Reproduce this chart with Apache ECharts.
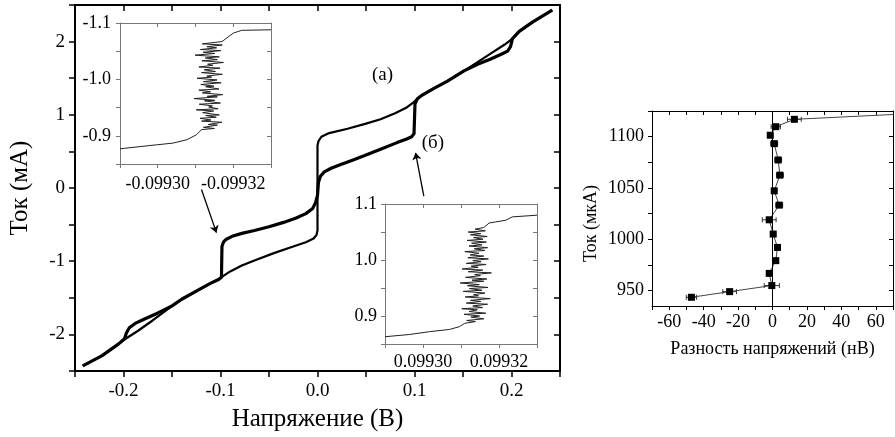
<!DOCTYPE html>
<html><head><meta charset="utf-8">
<script src="https://cdn.jsdelivr.net/npm/echarts@6/dist/echarts.min.js"></script>
<style>html,body{margin:0;padding:0;background:#fff}#c{width:895px;height:437px}</style>
</head><body><div id="c"></div>
<script>
// ---- Main I-V curve: branch with steps (thick) ----
const thickV = [-0.242,-0.222,-0.205,-0.199,-0.197,-0.194,-0.188,-0.180,-0.165,-0.150,-0.140,-0.125,-0.110,-0.102,-0.099,-0.0985,-0.097,-0.094,-0.088,-0.078,-0.065,-0.050,-0.035,-0.022,-0.012,-0.005,-0.002,0.000,0.001,0.003,0.007,0.014,0.024,0.036,0.048,0.065,0.082,0.092,0.097,0.0995,0.1005,0.103,0.108,0.120,0.134,0.151,0.165,0.178,0.190,0.196,0.199,0.201,0.208,0.222,0.242];
const thickI = [-2.43,-2.29,-2.13,-2.06,-1.98,-1.91,-1.85,-1.80,-1.71,-1.61,-1.52,-1.41,-1.30,-1.25,-1.22,-0.80,-0.74,-0.70,-0.66,-0.62,-0.58,-0.53,-0.47,-0.41,-0.35,-0.28,-0.20,-0.10,0.08,0.16,0.22,0.27,0.32,0.38,0.44,0.53,0.62,0.67,0.70,0.74,1.15,1.22,1.27,1.36,1.46,1.60,1.69,1.76,1.83,1.87,1.93,2.04,2.14,2.27,2.43];
// ---- Main I-V curve: other branch (thin) ----
const thinV = [-0.242,-0.222,-0.205,-0.199,-0.185,-0.170,-0.155,-0.140,-0.125,-0.110,-0.102,-0.097,-0.090,-0.078,-0.065,-0.045,-0.025,-0.012,-0.004,-0.001,0.000,0.000,0.001,0.004,0.012,0.031,0.050,0.065,0.080,0.092,0.099,0.103,0.108,0.120,0.134,0.151,0.165,0.180,0.193,0.201,0.208,0.222,0.242];
const thinI = [-2.43,-2.29,-2.13,-2.07,-1.95,-1.81,-1.66,-1.52,-1.41,-1.30,-1.25,-1.20,-1.14,-1.06,-0.99,-0.89,-0.80,-0.74,-0.69,-0.64,-0.58,0.58,0.64,0.70,0.75,0.81,0.88,0.94,1.02,1.10,1.17,1.22,1.27,1.36,1.46,1.60,1.72,1.85,1.96,2.04,2.14,2.27,2.43];
// ---- Inset (negative step) ----
const inset1V = [-0.0992900,-0.0992997,-0.0993040,-0.0993077,-0.0993103,-0.0993116,
 -0.0993150,-0.0993121,-0.0993158,-0.0993133,-0.0993170,-0.0993116,-0.0993141,-0.0993112,-0.0993155,-0.0993127,
 -0.0993163,-0.0993119,-0.0993148,-0.0993102,-0.0993160,-0.0993135,-0.0993145,-0.0993110,-0.0993166,-0.0993124,
 -0.0993151,-0.0993096,-0.0993158,-0.0993131,-0.0993172,-0.0993118,-0.0993140,-0.0993109,-0.0993162,-0.0993127,
 -0.0993149,-0.0993114,-0.0993168,-0.0993121,-0.0993157,-0.0993104,-0.0993143,-0.0993130,-0.0993171,-0.0993116,
 -0.0993153,-0.0993123,-0.0993165,-0.0993109,-0.0993146,-0.0993132,-0.0993174,-0.0993117,-0.0993158,-0.0993126,
 -0.0993163,-0.0993099,-0.0993151,-0.0993120,-0.0993167,-0.0993113,-0.0993156,-0.0993130,-0.0993171,-0.0993118,
 -0.0993170,-0.0993200,-0.0993222,-0.0993300];
const inset1I = [-0.877,-0.884,-0.887,-0.893,-0.902,-0.911,
 -0.913,-0.915,-0.919,-0.920,-0.924,-0.926,-0.928,-0.931,-0.933,-0.936,
 -0.937,-0.941,-0.944,-0.946,-0.948,-0.951,-0.953,-0.956,-0.958,-0.962,
 -0.963,-0.966,-0.969,-0.970,-0.973,-0.976,-0.978,-0.981,-0.983,-0.987,
 -0.988,-0.991,-0.994,-0.996,-0.999,-1.002,-1.004,-1.006,-1.009,-1.012,
 -1.014,-1.017,-1.020,-1.022,-1.025,-1.027,-1.030,-1.033,-1.035,-1.038,
 -1.040,-1.043,-1.046,-1.048,-1.051,-1.053,-1.056,-1.058,-1.061,-1.063,
 -1.067,-1.082,-1.087,-1.088];
// ---- Inset (positive step) ----
const inset2V = [0.0992900,0.0992965,0.0993017,0.0993070,0.0993096,0.0993110,
 0.0993138,0.0993115,0.0993160,0.0993126,0.0993149,0.0993108,0.0993165,0.0993121,0.0993143,0.0993102,
 0.0993157,0.0993131,0.0993170,0.0993114,0.0993152,0.0993125,0.0993177,0.0993111,0.0993146,0.0993133,
 0.0993163,0.0993106,0.0993155,0.0993122,0.0993171,0.0993117,0.0993148,0.0993098,0.0993160,0.0993129,
 0.0993168,0.0993112,0.0993151,0.0993136,0.0993180,0.0993119,0.0993157,0.0993103,0.0993145,0.0993127,
 0.0993166,0.0993114,0.0993153,0.0993131,0.0993172,0.0993118,0.0993160,0.0993124,0.0993147,0.0993110,
 0.0993163,0.0993135,0.0993170,0.0993121,0.0993155,0.0993128,0.0993167,0.0993116,0.0993158,0.0993133,
 0.0993169,0.0993125,0.0993152,0.0993119,0.0993164,0.0993137,0.0993160,
 0.0993174,0.0993191,0.0993218,0.0993235,0.0993300];
const inset2I = [0.863,0.867,0.872,0.876,0.881,0.887,
 0.890,0.892,0.895,0.898,0.900,0.903,0.905,0.908,0.911,0.913,
 0.915,0.918,0.921,0.923,0.926,0.928,0.931,0.934,0.936,0.938,
 0.941,0.944,0.946,0.949,0.951,0.954,0.956,0.959,0.962,0.964,
 0.966,0.969,0.972,0.974,0.977,0.979,0.982,0.984,0.987,0.989,
 0.992,0.994,0.997,0.999,1.002,1.004,1.007,1.009,1.012,1.015,
 1.017,1.020,1.022,1.025,1.027,1.030,1.032,1.035,1.037,1.040,
 1.042,1.045,1.047,1.050,1.052,1.055,1.058,
 1.066,1.068,1.071,1.077,1.080];
// ---- Right panel: voltage difference vs current ----
const diffNV  = [-47.1,-24.9,-0.4,-1.9,1.9,2.9,0.4,-1.9,3.9,1.0,4.3,3.3,1.0,-1.3,1.9,12.7];
const diffI   = [943.5,949.0,954.9,966.8,979.2,992.1,1005.1,1019.0,1033.3,1047.2,1062.5,1077.3,1093.2,1101.4,1109.7,1116.9];
const diffErr = [3.0,4.0,4.4,1.5,1.5,1.5,1.5,4.0,2.0,1.5,2.0,2.0,2.0,1.5,2.7,4.0];
const diffTailNV = [70];
const diffTailI = [1121.6];
// ---- Tick labels ----
const mainXLabels = [-0.2,-0.1,0,0.1,0.2];
const mainYLabels = [-2,-1,0,1,2];
const inset1XLabels = [-0.09930,-0.09932];
const inset1YLabels = [-1.1,-1.0,-0.9];
const inset2XLabels = [0.09930,0.09932];
const inset2YLabels = [0.9,1.0,1.1];
const rightXLabels = [-60,-40,-20,0,20,40,60];
const rightYLabels = [950,1000,1050,1100];
const rightYTicks = [950,975,1000,1025,1050,1075,1100,1125];
// ---- Annotations ----
const arrowFrom = [[-0.1196,-0.02],[0.1096,-0.11]];
const arrowTo   = [[-0.1042,-0.61],[0.1011,0.48]];
const panelTexts = ['(а)','(б)'];
const panelTextPos = [[0.067,1.54],[0.119,0.62]];

const F = "'Liberation Serif','Times New Roman',serif";
const pairs = (a,b)=>a.map((v,i)=>[v,b[i]]);

function xAx(g, min, max, interval, o) {
  o = o || {};
  const col = o.color || '#000';
  const base = {
    type:'value', gridIndex:g, min:min, max:max, interval:interval, inverse:!!o.inverse,
    splitLine:{show:false}, axisLine:{show:true, onZero:false, lineStyle:{color:col, width:o.lw||1}},
  };
  const bottom = Object.assign({}, base, {
    position:'bottom',
    axisTick:{show:true, inside:false, length:o.tl||5, lineStyle:{color:col, width:o.tw||1}},
    axisLabel:{show:true, customValues:o.labels, formatter:o.fmt, fontFamily:F, fontSize:o.fs||18, color:'#000', margin:o.margin||10},
    name:o.name||'', nameLocation:'middle', nameGap:o.nameGap||30,
    nameTextStyle:{fontFamily:F, fontSize:o.nfs||24, color:'#000'}
  });
  if (o.tickValues) bottom.axisTick.customValues = o.tickValues;
  const top = Object.assign({}, base, {
    position:'top',
    axisTick:{show:true, inside:true, length:o.tl||5, lineStyle:{color:col, width:o.tw||1}},
    axisLabel:{show:false}
  });
  if (o.tickValues) top.axisTick.customValues = o.tickValues;
  return [bottom, top];
}
function yAx(g, min, max, interval, o) {
  o = o || {};
  const col = o.color || '#000';
  const base = {
    type:'value', gridIndex:g, min:min, max:max, interval:interval, inverse:!!o.inverse,
    splitLine:{show:false}, axisLine:{show:true, onZero:false, lineStyle:{color:col, width:o.lw||1}},
  };
  const left = Object.assign({}, base, {
    position:'left',
    axisTick:{show:true, inside:false, length:o.tl||5, lineStyle:{color:col, width:o.tw||1}},
    axisLabel:{show:true, customValues:o.labels, formatter:o.fmt, fontFamily:F, fontSize:o.fs||18, color:'#000', margin:o.margin||8},
    name:o.name||'', nameLocation:'middle', nameGap:o.nameGap||40, nameRotate:90,
    nameTextStyle:{fontFamily:F, fontSize:o.nfs||24, color:'#000', padding:o.npad||0}
  });
  if (o.tickValues) left.axisTick.customValues = o.tickValues;
  const right = Object.assign({}, base, {
    position:'right',
    axisTick:{show:true, inside:true, length:o.tl||5, lineStyle:{color:col, width:o.tw||1}},
    axisLabel:{show:false}
  });
  if (o.tickValues) right.axisTick.customValues = o.tickValues;
  return [left, right];
}

const fmt1 = v => { const r = Math.round(v*10)/10; return r===0 ? '0.0' : r.toFixed(1); };
const fmtInt = v => String(Math.round(v));
const fmt5 = v => v.toFixed(5);

const xAxes = [].concat(
  xAx(0, -0.25, 0.25, 0.05, {labels:mainXLabels, fmt:fmt1, lw:2, tw:1.5, tl:6, fs:19, margin:11, name:'Напряжение (В)', nameGap:36, nfs:25}),
  xAx(1, -0.09933, -0.09929, 0.00001, {inverse:true, labels:inset1XLabels, fmt:fmt5, color:'#777', tl:4, fs:18, margin:11}),
  xAx(2, 0.09929, 0.09933, 0.00001, {labels:inset2XLabels, fmt:fmt5, color:'#777', tl:4, fs:18, margin:9}),
  xAx(3, -70, 70, 10, {labels:rightXLabels, fmt:fmtInt, tl:4, fs:18, margin:7, name:'Разность напряжений (нВ)', nameGap:34, nfs:18})
);
const yAxes = [].concat(
  yAx(0, -2.5, 2.5, 0.5, {labels:mainYLabels, fmt:fmtInt, lw:2, tw:1.5, tl:6, fs:19, margin:10, name:'Ток (мА)', nameGap:42, nfs:25}),
  yAx(1, -1.1, -0.85, 0.05, {inverse:true, labels:inset1YLabels, fmt:fmt1, color:'#777', tl:4, fs:18, margin:9}),
  yAx(2, 0.85, 1.1, 0.05, {labels:inset2YLabels, fmt:fmt1, color:'#777', tl:4, fs:18, margin:8}),
  yAx(3, 935, 1125, 25, {labels:rightYLabels, tickValues:rightYTicks, fmt:fmtInt, tl:4, fs:18, margin:8, name:'Ток (мкА)', nameGap:52, nfs:18, npad:[0,30,0,0]})
);

const rightData = pairs(diffNV, diffI).concat(pairs(diffTailNV, diffTailI).map(p=>({value:p, symbol:'none'})));

const option = {
  animation:false,
  backgroundColor:'#fff',
  grid:[
    {left:73, top:5, width:487, height:367},
    {left:120, top:23, width:151, height:141},
    {left:385, top:204, width:152, height:140},
    {left:652, top:111, width:241, height:195}
  ],
  xAxis:xAxes,
  yAxis:yAxes,
  series:[
    {type:'line', xAxisIndex:0, yAxisIndex:0, data:pairs(thinV, thinI), showSymbol:false, symbol:'none',
     lineStyle:{color:'#000', width:2.2}, z:3,
     markLine:{silent:true, symbol:['none','arrow'], symbolSize:7, label:{show:false},
       lineStyle:{color:'#000', width:1.3, type:'solid'},
       data:arrowFrom.map((p,i)=>[{coord:p},{coord:arrowTo[i]}])}},
    {type:'line', xAxisIndex:0, yAxisIndex:0, data:pairs(thickV, thickI), showSymbol:false, symbol:'none',
     lineStyle:{color:'#000', width:3.2}, z:4},
    {type:'custom', xAxisIndex:0, yAxisIndex:0, z:5,
     data:panelTextPos.map((p,i)=>[p[0], p[1], i]),
     encode:{x:0, y:1},
     renderItem:function(params, api){
       const p = api.coord([api.value(0), api.value(1)]);
       return {type:'text', x:p[0], y:p[1],
         style:{text:panelTexts[api.value(2)], fill:'#000', font:"19px " + F, align:'center', verticalAlign:'middle'}};
     }},
    {type:'line', xAxisIndex:2, yAxisIndex:2, data:pairs(inset1V, inset1I), showSymbol:false, symbol:'none',
     lineStyle:{color:'#222', width:1}},
    {type:'line', xAxisIndex:4, yAxisIndex:4, data:pairs(inset2V, inset2I), showSymbol:false, symbol:'none',
     lineStyle:{color:'#222', width:1}},
    {type:'line', xAxisIndex:6, yAxisIndex:6, data:rightData, symbol:'rect', symbolSize:7,
     itemStyle:{color:'#000'}, lineStyle:{color:'#444', width:1}, z:4,
     markLine:{silent:true, symbol:['none','none'], label:{show:false}, lineStyle:{color:'#000', width:1, type:'solid'},
       data:[{xAxis:0}]}},
    {type:'custom', xAxisIndex:6, yAxisIndex:6, z:3,
     data:diffNV.map((v,i)=>[v, diffI[i], diffErr[i]]),
     encode:{x:0, y:1},
     renderItem:function(params, api){
       const x = api.value(0), y = api.value(1), e = api.value(2);
       const p1 = api.coord([x-e, y]), p2 = api.coord([x+e, y]);
       const h = 2.5, st = {stroke:'#333', lineWidth:1};
       return {type:'group', children:[
         {type:'line', shape:{x1:p1[0], y1:p1[1], x2:p2[0], y2:p2[1]}, style:st},
         {type:'line', shape:{x1:p1[0], y1:p1[1]-h, x2:p1[0], y2:p1[1]+h}, style:st},
         {type:'line', shape:{x1:p2[0], y1:p2[1]-h, x2:p2[0], y2:p2[1]+h}, style:st}
       ]};
     }}
  ]
};
const chart = echarts.init(document.getElementById('c'), null, {renderer:'canvas'});
chart.setOption(option);
</script></body></html>
